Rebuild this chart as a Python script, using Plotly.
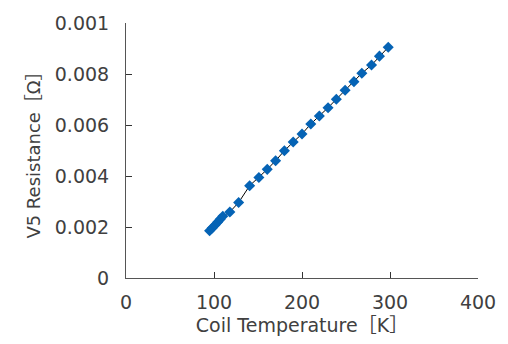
import plotly.graph_objects as go

temperature_K = [95, 98, 101, 104, 107, 110, 118, 128, 140.5, 151, 160.5, 170, 180, 190,
                 200, 210, 219.7, 229.6, 239, 249, 259, 268, 279, 288, 298]
resistance_ohm = [0.00185, 0.00196, 0.00207, 0.00219, 0.00230, 0.00242, 0.00259, 0.00296,
                  0.00362, 0.00394, 0.00426, 0.00460, 0.00499, 0.00533, 0.00565, 0.00604,
                  0.00635, 0.00668, 0.00701, 0.00736, 0.00770, 0.00803, 0.00835, 0.00870,
                  0.00905]

x_ticks = [0, 100, 200, 300, 400]
y_ticks = [0, 0.002, 0.004, 0.006, 0.008, 0.01]
y_tick_text = ["0", "0.002", "0.004", "0.006", "0.008", "0.001"]

font_family = "DejaVu Sans, Noto Sans CJK JP, sans-serif"
text_color = "#404040"

fig = go.Figure()
fig.add_trace(go.Scatter(
    x=temperature_K, y=resistance_ohm, mode="lines+markers",
    line=dict(color="black", width=1),
    marker=dict(symbol="diamond", size=8.5, color="#0563B5", line=dict(width=0)),
    showlegend=False,
))

axis_common = dict(
    showline=True, linecolor="#555555", linewidth=1, mirror=False,
    ticks="inside", ticklen=6, tickcolor="#333333", tickwidth=1,
    showgrid=False, zeroline=False,
    tickfont=dict(family=font_family, size=19, color=text_color),
)

fig.update_layout(
    width=508, height=344,
    margin=dict(l=126, r=29, t=18, b=66),
    paper_bgcolor="white", plot_bgcolor="white",
    font=dict(family=font_family, color=text_color),
    xaxis=dict(range=[0, 400], tickvals=x_ticks, ticktext=[str(v) for v in x_ticks],
               title=dict(text="Coil Temperature［K］", font=dict(size=19), standoff=6),
               ticklabelstandoff=7, **axis_common),
    yaxis=dict(range=[0, 0.01], tickvals=y_ticks, ticktext=y_tick_text,
               title=dict(text="V5 Resistance［Ω］", font=dict(size=18), standoff=9),
               ticklabelstandoff=12, **axis_common),
)

fig.write_html("out.html")
